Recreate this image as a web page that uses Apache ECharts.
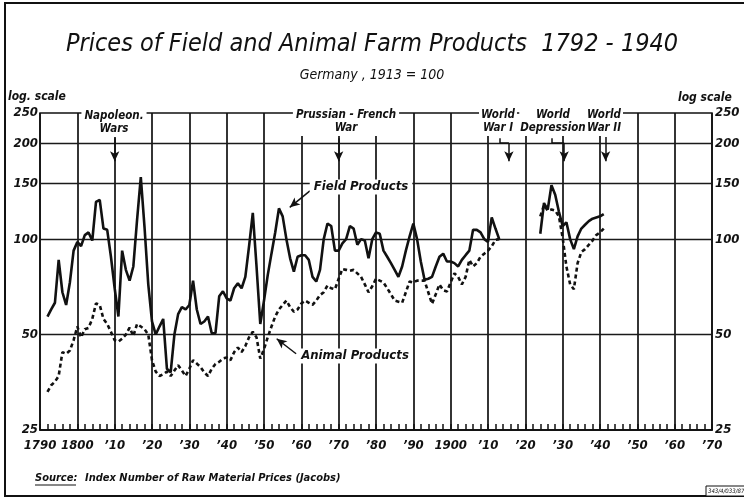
<!DOCTYPE html>
<html>
<head>
<meta charset="utf-8">
<script src="https://cdn.jsdelivr.net/npm/echarts@6/dist/echarts.min.js"></script>
<style>
  html, body { margin: 0; padding: 0; background: #fff; }
  #chart { width: 744px; height: 500px; }
</style>
</head>
<body>
<div id="chart"></div>
<script>
let font = '"DejaVu Sans Condensed", "Liberation Sans Narrow", "DejaVu Sans", sans-serif';

// 1792 - 1913, one value per year (1913 = 100)
let earlyStart = 1792;
let fieldEarly = [
    57, 60, 63, 86, 68, 62, 73, 92,
    98, 95, 103, 105, 99, 131, 133, 108, 107, 88,
    70, 57, 92, 80, 74, 82, 115, 157, 109, 72,
    55, 50, 53, 56, 39, 38, 50, 58, 61, 60,
    62, 74, 60, 54, 55, 57, 50.5, 50.5, 66, 68.5,
    65, 64, 70, 72.5, 70, 76, 95, 121, 82, 54,
    64, 77, 90, 105, 125, 118, 100, 87, 79, 88,
    89, 89, 86, 76, 73.5, 80, 100, 112, 110, 92,
    92, 97, 100, 110, 108, 96, 100, 99, 87, 100,
    105, 104, 92, 88, 84, 80, 76, 82, 92, 102,
    112, 100, 85, 74.5, 75, 76, 82, 88, 90, 85,
    85, 84, 82, 86, 89, 92, 107, 107, 105, 100,
    98, 117, 108, 100
];
let animalEarly = [
    33, 34.6, 35.5, 37, 44, 43.5, 44.5, 48,
    53, 49, 52, 52.5, 56, 62.7, 62, 56, 54, 51,
    48, 47.5, 48.5, 50, 52.6, 49.5, 54, 53, 52, 50,
    41.5, 38.2, 37, 37.5, 38.2, 37, 38.5, 40, 38.5, 37,
    39, 41.5, 40.5, 39.5, 38, 37, 39, 40.4, 41, 42,
    42.3, 41.5, 44, 45.5, 44, 46, 49, 51, 49, 42,
    45, 49, 53, 57, 60, 62, 64, 61, 59, 60,
    62.7, 64, 63, 62, 64, 66.6, 68, 71.4, 70, 69.5,
    75, 80.5, 80, 79.5, 80, 78, 76, 72, 68, 71,
    75, 74, 73, 70, 67, 64, 63.5, 63, 68, 73.5,
    73, 74, 74, 74, 68, 62.5, 67, 72, 69, 68.4,
    73, 78, 76, 72, 76, 86, 82, 84, 88, 90,
    92, 95, 99.5, 100
];

// 1924 - 1941
let lateStart = 1924;
let fieldLate = [104, 130, 124, 148, 138, 122, 110, 113, 100, 93, 102, 108, 111, 114, 116, 117, 118, 120];
let animalLate = [118, 128, 123, 124, 123, 118, 101, 82, 72, 69.5, 84, 91, 93, 96, 99, 103, 105, 108];

let yTicks = [25, 50, 100, 150, 200, 250];
let xMin = 1790;
let xMax = 1970;

function toPairs(start, vals) {
    return vals.map(function (v, i) { return [start + i, v]; });
}

function buildSeriesData(early, late) {
    // null point keeps the war gap open
    return toPairs(earlyStart, early).concat([[1918, null]], toPairs(lateStart, late));
}

function yearLabel(v) {
    if (v === 1790 || v === 1800 || v === 1900) return String(v);
    let d = v % 100;
    return '\u2019' + (d < 10 ? '0' + d : d);
}

// horizontal grid lines + labels on both sides
let noLine = { color: 'rgba(0,0,0,0)', width: 1, type: 'solid' };
let gridLines = [];
yTicks.forEach(function (t) {
    let inner = t !== 25 && t !== 250;
    gridLines.push({
        yAxis: t,
        lineStyle: inner ? { color: '#1a1a1a', width: 1.3, type: 'solid' } : noLine,
        label: { show: true, position: 'start', formatter: String(t), distance: 2 }
    });
    gridLines.push({
        yAxis: t,
        lineStyle: noLine,
        label: { show: true, position: 'end', formatter: String(t), distance: 3 }
    });
});

function seg(x1, y1, x2, y2, arrow) {
    return [
        { coord: [x1, y1], symbol: 'none' },
        { coord: [x2, y2], symbol: arrow ? 'arrow' : 'none' }
    ];
}

// event arrows and label pointers
let arrows = [
    seg(1810, 208, 1810, 176, true),
    seg(1870, 208, 1870, 176, true),
    seg(1913.2, 208, 1913.2, 201, false),
    seg(1913.2, 201, 1915.6, 201, false),
    seg(1915.6, 201, 1915.6, 176, true),
    seg(1927.1, 208, 1927.1, 201, false),
    seg(1927.1, 201, 1930.4, 201, false),
    seg(1930.4, 201, 1930.4, 176, true),
    seg(1941.5, 210, 1941.5, 176, true),
    seg(1862.3, 142, 1856.9, 126, true),
    seg(1858.6, 43.5, 1853.4, 48.5, true)
];

let myChart = echarts.init(document.getElementById('chart'));

let labelFont = { fontFamily: font, fontStyle: 'italic', fontWeight: 'bold', fontSize: 13, color: '#111' };

function note(x, y, text, size, pad) {
    return {
        type: 'text', x: x, y: y, z: 100,
        style: {
            text: text, font: 'italic bold ' + size + 'px ' + font, lineHeight: 13, fill: '#111',
            align: 'center', textAlign: 'center', verticalAlign: 'middle', textVerticalAlign: 'middle',
            backgroundColor: '#fff', padding: pad
        }
    };
}

function plainText(x, y, text, f, align) {
    return {
        type: 'text', x: x, y: y, z: 100,
        style: {
            text: text, font: f, fill: '#111',
            align: align, textAlign: align, verticalAlign: 'middle', textVerticalAlign: 'middle'
        }
    };
}

let option = {
    animation: false,
    backgroundColor: '#fff',
    grid: {
        left: 40, right: 32, top: 113, bottom: 70,
        show: true, borderColor: '#111', borderWidth: 1.5, backgroundColor: 'transparent'
    },
    xAxis: [
        {
            type: 'value',
            min: xMin,
            max: xMax,
            interval: 10,
            axisLine: { show: true, onZero: false, lineStyle: { color: '#111', width: 1.5 } },
            axisTick: { show: false },
            splitLine: { show: true, lineStyle: { color: '#111', width: 1.7 } },
            axisLabel: Object.assign({ margin: 9, formatter: yearLabel }, labelFont)
        },
        {
            // two-year tick marks standing on the bottom edge
            type: 'value',
            position: 'bottom',
            min: xMin,
            max: xMax,
            interval: 2,
            axisLine: { show: true, onZero: false, lineStyle: { color: '#111', width: 1.5 } },
            axisTick: { show: true, inside: true, length: 6, lineStyle: { color: '#111', width: 1.5 } },
            axisLabel: { show: false },
            splitLine: { show: false }
        }
    ],
    yAxis: {
        type: 'log',
        logBase: 10,
        min: 25,
        max: 250,
        axisLine: { show: false },
        axisTick: { show: false },
        axisLabel: { show: false },
        splitLine: { show: false }
    },
    series: [
        {
            name: 'Field Products',
            type: 'line',
            data: buildSeriesData(fieldEarly, fieldLate),
            showSymbol: false,
            connectNulls: false,
            lineStyle: { color: '#111', width: 2.6 },
            z: 5,
            markLine: {
                silent: true,
                symbol: 'none',
                animation: false,
                label: labelFont,
                data: gridLines,
                z: 1
            }
        },
        {
            name: 'Animal Products',
            type: 'line',
            data: buildSeriesData(animalEarly, animalLate),
            showSymbol: false,
            connectNulls: false,
            lineStyle: { color: '#111', width: 2.6, type: [4, 3] },
            z: 4,
            markLine: {
                silent: true,
                symbolSize: [7, 10],
                animation: false,
                label: { show: false },
                lineStyle: { color: '#111', width: 1.5, type: 'solid' },
                data: arrows
            }
        }
    ],
    graphic: [
        { type: 'rect', shape: { x: 5, y: 3, width: 760, height: 493 }, style: { fill: 'none', stroke: '#111', lineWidth: 2 }, z: 0 },
        plainText(372, 44, 'Prices of Field and Animal Farm Products  1792 - 1940', 'italic 25px ' + font, 'center'),
        plainText(372, 75, 'Germany , 1913 = 100', 'italic 14px ' + font, 'center'),
        plainText(8, 97, 'log. scale', 'italic bold 12px ' + font, 'left'),
        plainText(678, 98, 'log scale', 'italic bold 12px ' + font, 'left'),
        note(114, 123, 'Napoleon.\nWars', 11.5, [1, 3]),
        note(346, 122, 'Prussian - French\nWar', 11.5, [1, 3]),
        note(498, 122, 'World\nWar I', 11.5, [1, 2]),
        note(553, 122, 'World\nDepression', 11.5, [1, 1]),
        note(604, 122, 'World\nWar II', 11.5, [1, 2]),
        note(361, 187, 'Field Products', 13, [1, 4]),
        note(355, 356, 'Animal Products', 13, [1, 4]),
        plainText(35, 478, 'Source:', 'italic bold 11px ' + font, 'left'),
        { type: 'line', shape: { x1: 35, y1: 485, x2: 76, y2: 485 }, style: { stroke: '#111', lineWidth: 1.2 }, z: 100 },
        plainText(85, 478, 'Index Number of Raw Material Prices (Jacobs)', 'italic bold 11px ' + font, 'left'),
        { type: 'rect', shape: { x: 706, y: 486, width: 40, height: 10 }, style: { fill: '#fff', stroke: '#111', lineWidth: 1 }, z: 100 },
        plainText(708, 491, '343/4/033/87', 'italic 6px ' + font, 'left')
    ]
};

myChart.setOption(option);
</script>
</body>
</html>
